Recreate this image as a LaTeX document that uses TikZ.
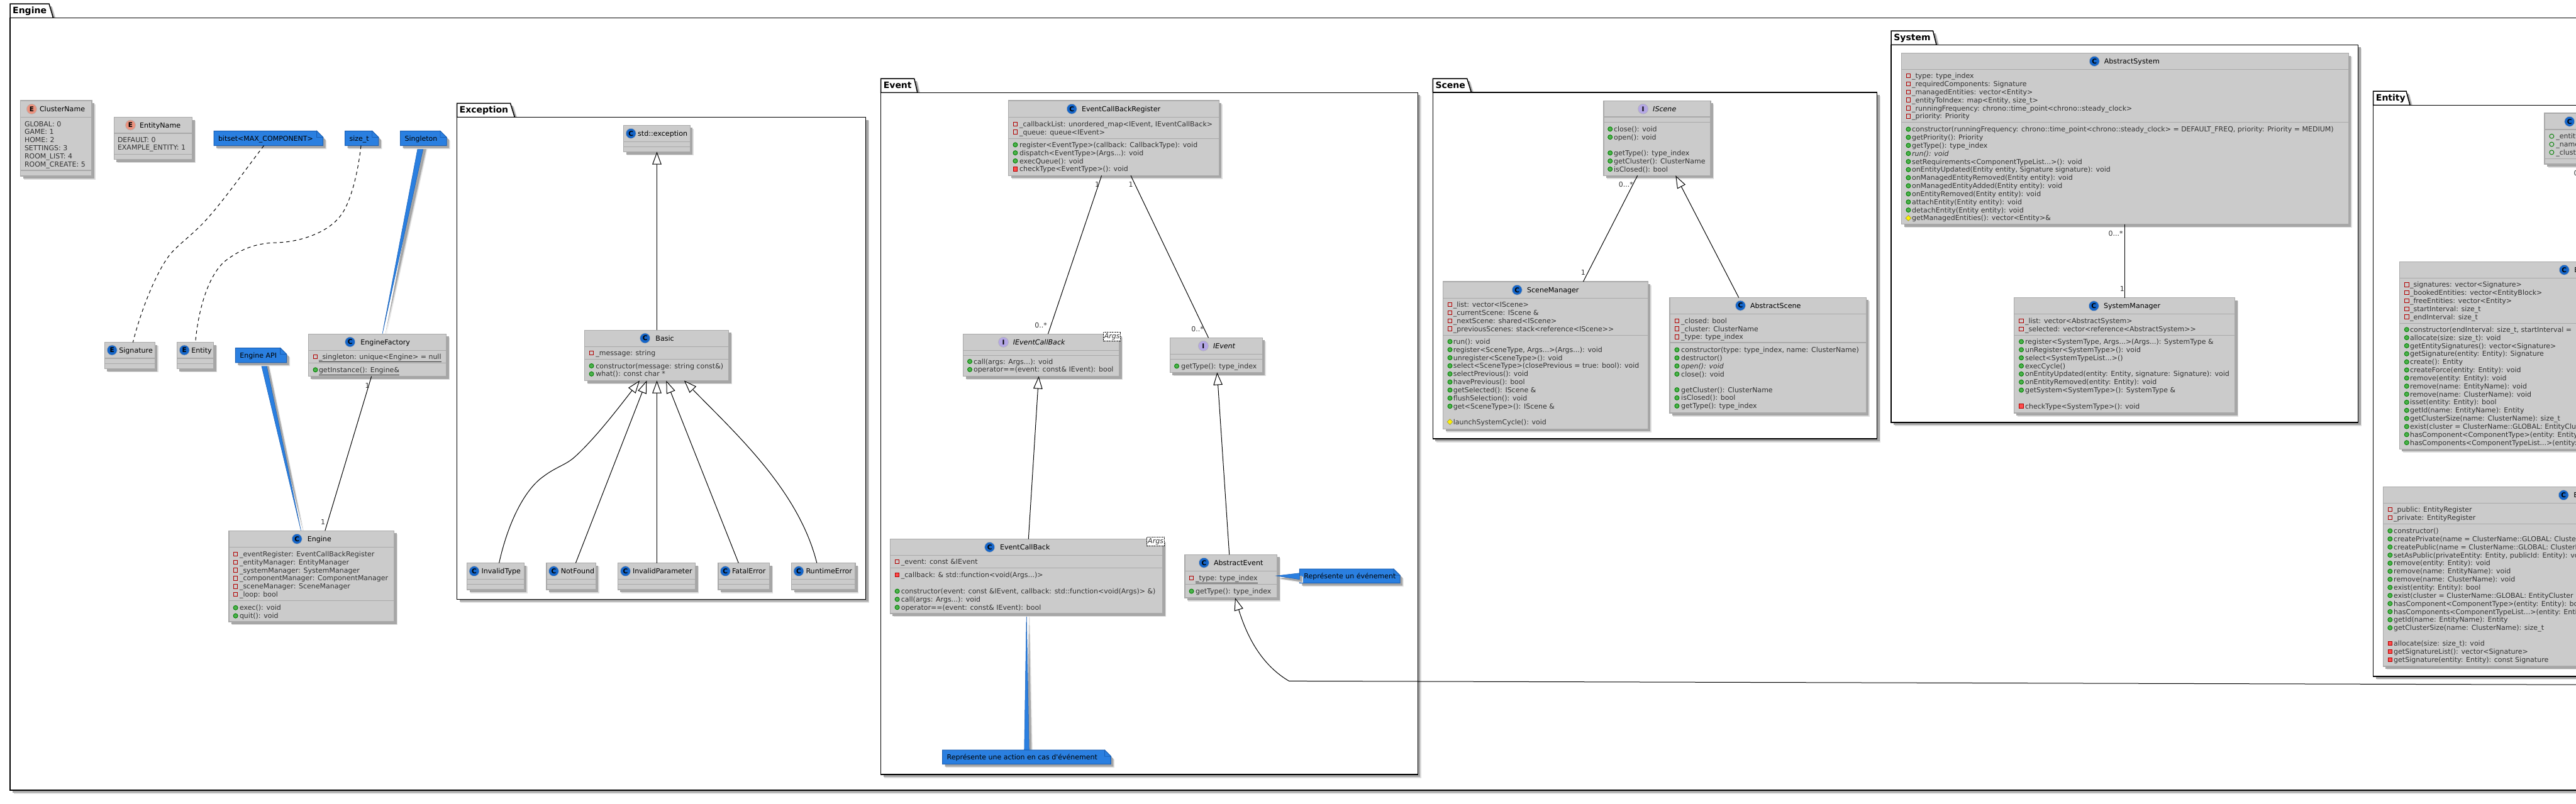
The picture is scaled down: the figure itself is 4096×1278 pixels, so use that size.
\documentclass[tikz,border=0pt]{standalone}
\usepackage{fontspec}
\newfontfamily\umlf{DejaVu Sans}
\usetikzlibrary{arrows.meta,shapes.geometric,shadows}
\definecolor{boxfill}{HTML}{CBCBCB}
\definecolor{boxline}{HTML}{A9A9A9}
\definecolor{shdark}{HTML}{A6A6A6}
\definecolor{shlight}{HTML}{DEDEDE}
\definecolor{notefill}{HTML}{2A7FE0}
\definecolor{noteline}{HTML}{1A5FB4}
\definecolor{classicon}{HTML}{1565C8}
\definecolor{ifaceicon}{HTML}{B4A7E5}
\definecolor{enumicon}{HTML}{EB937F}
\definecolor{membertext}{HTML}{333333}
\pgfdeclarelayer{pkglayer}
\pgfdeclarelayer{wedgelayer}
\pgfsetlayers{pkglayer,wedgelayer,main}
\newcounter{mc}
\tikzset{
  every node/.style={font=\umlf\fontsize{11}{13}\selectfont,inner sep=0pt,outer sep=0pt},
  softshadow/.style={general shadow={shadow xshift=5.5pt,shadow yshift=-5.5pt,fill=shlight,opacity=1},
                     general shadow={shadow xshift=4pt,shadow yshift=-4pt,fill=shdark,opacity=1}},
  classnode/.style={rectangle,draw=boxline,line width=1.4pt,fill=boxfill,softshadow,anchor=north west},
  divider/.style={draw=boxline,line width=1.2pt},
  iconnode/.style={circle,minimum size=16pt,draw=gray!60,line width=0.6pt,font=\umlf\bfseries\fontsize{10.5}{11}\selectfont},
  titletext/.style={anchor=base west,text=black,font=\umlf\fontsize{11.1}{13}\selectfont},
  titleital/.style={anchor=base west,text=black,font=\umlf\itshape\fontsize{11.1}{13}\selectfont},
  membertxt/.style={anchor=base west,text=membertext},
  pubm/.style={circle,minimum size=7pt,draw=green!50!black,fill=green!40!gray,line width=0.9pt},
  pubf/.style={circle,minimum size=7pt,draw=green!50!black,line width=0.9pt},
  privf/.style={rectangle,minimum size=6.5pt,draw=red!70!black,line width=0.9pt},
  privm/.style={rectangle,minimum size=6.5pt,draw=red!70!black,fill=red!70!white,line width=0.9pt},
  protm/.style={diamond,minimum size=9pt,draw=yellow!60!black,fill=yellow,line width=0.8pt},
  pkgbody/.style={rectangle,draw=black,line width=1.5pt,fill=white,softshadow,anchor=north west},
  pkgtab/.style={draw=black,line width=1.5pt,fill=white,softshadow},
  pkgtext/.style={anchor=base west,text=black,font=\umlf\bfseries\fontsize{14}{16}\selectfont},
  notebody/.style={draw=noteline,line width=1pt,fill=notefill,softshadow},
  noteear/.style={draw=noteline,line width=0.8pt,fill=notefill},
  notearea/.style={rectangle,anchor=north west},
  notetext/.style={anchor=base west,text=black},
  wedgeshape/.style={draw=noteline,line width=0.5pt,fill=notefill,softshadow},
  assoc/.style={draw=black,line width=1pt},
  inherit/.style={draw=black,line width=1pt,-{Triangle[open,fill=white,length=20pt,width=14.5pt]}},
  dashedlink/.style={draw=black,line width=1pt,dash pattern=on 5.5pt off 5pt},
  multlabel/.style={text=membertext},
  argsbox/.style={rectangle,draw=black,densely dotted,line width=0.6pt,fill=white,anchor=north west,
     font=\umlf\itshape\fontsize{11}{13}\selectfont,text=membertext},
}
\newcommand{\ClassBox}[7]{%
  \pgfmathsetmacro\bw{#4-#2}\pgfmathsetmacro\bh{#5-#3}%
  \node[classnode,minimum width=\bw pt,minimum height=\bh pt] (#1) at (#2,#3) {};
  \draw[divider] (#2,#6) -- (#4,#6);
  \draw[divider] (#2,#7) -- (#4,#7);
}
\newcommand{\Head}[7]{% id, letter, colour, icon x, y, title x, title
  \pgfmathsetmacro\by{#5+4}%
  \node[iconnode,fill=#3] (#1icon) at (#4,#5) {#2};
  \node[titletext] (#1title) at (#6,\by) {#7};
}
\newcommand{\HeadI}[7]{%
  \pgfmathsetmacro\by{#5+4}%
  \node[iconnode,fill=#3] (#1icon) at (#4,#5) {#2};
  \node[titleital] (#1title) at (#6,\by) {#7};
}
\newcommand{\Mset}[3]{\def\mx{#1}\def\tx{#2}\pgfmathsetmacro\my{#3}}
\newcommand{\M}[2]{%
  \stepcounter{mc}%
  \pgfmathsetmacro\by{\my+4}%
  \node[#1] (ic\arabic{mc}) at (\mx,\my) {};
  \node[membertxt] (tx\arabic{mc}) at (\tx,\by) {#2};
  \pgfmathsetmacro\my{\my+12.85}%
}
\newcommand{\T}[1]{%
  \stepcounter{mc}%
  \pgfmathsetmacro\by{\my+4}%
  \node[membertxt] (tx\arabic{mc}) at (\tx,\by) {#1};
  \pgfmathsetmacro\my{\my+12.85}%
}
\newcommand{\Pkg}[9]{% id,x1,top,bodytop,x2,y2,xrt,xbr,label
  \pgfmathsetmacro\bw{#5-#2}\pgfmathsetmacro\bh{#6-#4}\pgfmathsetmacro\by{#3+15.5}\pgfmathsetmacro\bx{#2+4.2}%
  \begin{pgfonlayer}{pkglayer}
  \draw[pkgtab] (#2,#4) -- (#2,#3) -- (#7,#3) -- (#8,#4) -- cycle;
  \node[pkgbody,minimum width=\bw pt,minimum height=\bh pt] (#1) at (#2,#4) {};
  \node[pkgtext] (#1label) at (\bx,\by) {#9};
  \end{pgfonlayer}
}
\newcommand{\Note}[6]{% id,x1,y1,x2,y2,text
  \pgfmathsetmacro\bw{#4-#2}\pgfmathsetmacro\bh{#5-#3}\pgfmathsetmacro\ex{#4-10}\pgfmathsetmacro\ey{#3+10}%
  \pgfmathsetmacro\by{(#3+#5)/2+4}\pgfmathsetmacro\bx{#2+7}%
  \draw[notebody] (#2,#3) -- (\ex,#3) -- (#4,\ey) -- (#4,#5) -- (#2,#5) -- cycle;
  \draw[noteear] (\ex,#3) -- (\ex,\ey) -- (#4,\ey) -- cycle;
  \node[notearea,minimum width=\bw pt,minimum height=\bh pt] (#1) at (#2,#3) {};
  \node[notetext] (#1text) at (\bx,\by) {#6};
}
\begin{document}
\begin{tikzpicture}[x=1pt,y=-1pt]
\useasboundingbox (0,0) rectangle (4096,1278);
% ---- packages
\Pkg{pkgengine}{16}{6}{28.5}{4200}{1257}{78}{84.6}{Engine}
\Pkg{pkgexception}{726.5}{164.3}{186.5}{1376.6}{953.4}{811.5}{818.4}{Exception}
\Pkg{pkgevent}{1400.6}{125}{147.3}{2254.3}{1232.2}{1453.7}{1458.8}{Event}
\Pkg{pkgscene}{2278.3}{125}{147.2}{2984.6}{698}{2332.7}{2339.5}{Scene}
\Pkg{pkgsystem}{3007.1}{49}{71.3}{3749.7}{672}{3073.5}{3079}{System}
\Pkg{pkgentity}{3773.7}{145}{167.3}{4200}{1075.8}{3826}{3832}{Entity}

% ---- enums and entities
\ClassBox{clustername}{32.5}{160}{146}{280}{186.5}{271}
\Head{clustername}{E}{enumicon}{50.4}{173.5}{63}{ClusterName}
\Mset{0}{39}{197}
\T{GLOBAL: 0}\T{GAME: 1}\T{HOME: 2}\T{SETTINGS: 3}\T{ROOM\_LIST: 4}\T{ROOM\_CREATE: 5}

\ClassBox{entityname}{181.4}{186.5}{305.7}{253.5}{212}{245.3}
\Head{entityname}{E}{enumicon}{207.5}{199}{222}{EntityName}
\Mset{0}{187}{222}
\T{DEFAULT: 0}\T{EXAMPLE\_ENTITY: 1}

\ClassBox{signature}{166.4}{544.5}{246.4}{586.5}{570}{578.8}
\Head{signature}{E}{classicon}{178.2}{557}{189.3}{Signature}
\ClassBox{entity}{281.4}{544.5}{339.6}{586.5}{570}{578.8}
\Head{entity}{E}{classicon}{293.2}{557}{304.3}{Entity}

% ---- factory / engine
\ClassBox{factory}{490.4}{531.3}{709.7}{598.6}{557.3}{577.6}
\Head{factory}{C}{classicon}{556.6}{544}{573.4}{EngineFactory}
\Mset{501.5}{507}{567.3}
\M{privf}{\underline{\_singleton: unique<Engine> = null}}
\Mset{501.5}{507}{588.3}
\M{pubm}{\underline{getInstance(): Engine\&}}

\ClassBox{engine}{363.8}{844.3}{626.5}{988.8}{870.4}{955.4}
\Head{engine}{C}{classicon}{472.2}{857.3}{488.8}{Engine}
\Mset{374.6}{381}{881.4}
\M{privf}{\_eventRegister: EventCallBackRegister}
\M{privf}{\_entityManager: EntityManager}
\M{privf}{\_systemManager: SystemManager}
\M{privf}{\_componentManager: ComponentManager}
\M{privf}{\_sceneManager: SceneManager}
\M{privf}{\_loop: bool}
\Mset{374.6}{381}{966.8}
\M{pubm}{exec(): void}
\M{pubm}{quit(): void}

% ---- exception
\ClassBox{stdexc}{991.5}{199.2}{1097.2}{241.5}{225.3}{233.3}
\Head{stdexc}{C}{classicon}{1003.2}{212.3}{1014.2}{std::exception}
\ClassBox{basic}{929.5}{525.3}{1158.5}{605.5}{551.4}{571.4}
\Head{basic}{C}{classicon}{1025.6}{538}{1042.4}{Basic}
\Mset{940.5}{947.4}{561.4}
\M{privf}{\_message: string}
\Mset{940.5}{947.4}{582}
\M{pubm}{constructor(message: string const\&)}
\M{pubm}{what(): const char *}
\ClassBox{invalidtype}{742.6}{895.6}{833.2}{938}{921.6}{929.8}
\Head{invalidtype}{C}{classicon}{754}{908.6}{765.6}{InvalidType}
\ClassBox{notfound}{868.9}{895.6}{947.3}{938}{921.6}{929.8}
\Head{notfound}{C}{classicon}{880.4}{908.6}{891.8}{NotFound}
\ClassBox{invalidparam}{982.4}{895.6}{1105.5}{938}{921.6}{929.8}
\Head{invalidparam}{C}{classicon}{994.5}{908.6}{1006}{InvalidParameter}
\ClassBox{fatalerror}{1141.8}{895.6}{1223.5}{938}{921.6}{929.8}
\Head{fatalerror}{C}{classicon}{1153.3}{908.6}{1164}{FatalError}
\ClassBox{runtimeerror}{1258.5}{895.6}{1359.8}{938}{921.6}{929.8}
\Head{runtimeerror}{C}{classicon}{1270}{908.6}{1281.5}{RuntimeError}

% ---- event
\ClassBox{register}{1603.7}{160}{1938.4}{279.3}{186.7}{220.3}
\Head{register}{C}{classicon}{1704.2}{173.3}{1720}{EventCallBackRegister}
\Mset{1614.4}{1621}{197.3}
\M{privf}{\_callbackList: unordered\_map<IEvent, IEventCallBack>}
\M{privf}{\_queue: queue<IEvent>}
\Mset{1614.4}{1621}{230.3}
\M{pubm}{register<EventType>(callback: CallbackType): void}
\M{pubm}{dispatch<EventType>(Args...): void}
\M{pubm}{execQueue(): void}
\M{privm}{checkType<EventType>(): void}

\ClassBox{ieventcallback}{1531.7}{531.3}{1779.7}{598.5}{557.3}{565.3}
\HeadI{ieventcallback}{I}{ifaceicon}{1595.5}{544.3}{1610.8}{IEventCallBack}
\Mset{1542}{1548}{575}
\M{pubm}{call(args: Args...): void}
\M{pubm}{operator==(event: const\& IEvent): bool}
\node[argsbox,minimum width=27pt,minimum height=14pt] (argsa) at (1754.7,528.3) {Args};

\ClassBox{ievent}{1860.3}{537.3}{2007.3}{592.5}{563.3}{571.3}
\HeadI{ievent}{I}{ifaceicon}{1913.4}{550.3}{1929}{IEvent}
\Mset{1871}{1878}{582.4}
\M{pubm}{getType(): type\_index}

\ClassBox{eventcallback}{1415.4}{857.6}{1848.6}{975.8}{883.7}{903.4}
\Head{eventcallback}{C}{classicon}{1573.6}{870.4}{1590}{EventCallBack}
\Mset{1426.6}{1432.8}{893.3}
\M{privf}{\_event: const \&IEvent}
\Mset{1426.6}{1432.8}{914.4}
\M{privm}{\_callback: \& std::function<void(Args...)>}
\Mset{1426.6}{1432.8}{940.5}
\M{pubm}{constructor(event: const \&IEvent, callback: std::function<void(Args)> \&)}
\M{pubm}{call(args: Args...): void}
\M{pubm}{operator==(event: const\& IEvent): bool}
\node[argsbox,minimum width=28pt,minimum height=14pt] (argsb) at (1823.6,854.4) {Args};

\ClassBox{abstractevent}{1883.8}{882.3}{2030.7}{951}{908.4}{929.5}
\Head{abstractevent}{C}{classicon}{1914.4}{895.2}{1930}{AbstractEvent}
\Mset{1894.5}{1901}{919.4}
\M{privf}{\underline{\_type: type\_index}}
\Mset{1894.5}{1901}{940.5}
\M{pubm}{getType(): type\_index}

% ---- scene
\ClassBox{iscene}{2549.8}{160.3}{2719.8}{279.3}{186}{194.7}
\HeadI{iscene}{I}{ifaceicon}{2612.6}{173.3}{2628.2}{IScene}
\Mset{2560.2}{2566}{205.3}
\M{pubm}{close(): void}
\M{pubm}{open(): void}
\Mset{2560.2}{2566}{243.3}
\M{pubm}{getType(): type\_index}
\M{pubm}{getCluster(): ClusterName}
\M{pubm}{isClosed(): bool}

\ClassBox{scenemanager}{2294.6}{448}{2620.4}{682.2}{474.2}{533.1}
\Head{scenemanager}{C}{classicon}{2412.2}{461.2}{2428}{SceneManager}
\Mset{2305.5}{2310.8}{484.5}
\M{privf}{\_list: vector<IScene>}
\M{privf}{\_currentScene: IScene \&}
\M{privf}{\_nextScene: shared<IScene>}
\M{privf}{\_previousScenes: stack<reference<IScene>>}
\Mset{2305.5}{2310.8}{543.4}
\M{pubm}{run(): void}
\M{pubm}{register<SceneType, Args...>(Args...): void}
\M{pubm}{unregister<SceneType>(): void}
\M{pubm}{select<SceneType>(closePrevious = true: bool): void}
\M{pubm}{selectPrevious(): void}
\M{pubm}{havePrevious(): bool}
\M{pubm}{getSelected(): IScene \&}
\M{pubm}{flushSelection(): void}
\M{pubm}{get<SceneType>(): IScene \&}
\Mset{2305.5}{2310.8}{671.1}
\M{protm}{launchSystemCycle(): void}

\ClassBox{abstractscene}{2654.8}{473.4}{2967.4}{657}{499.5}{545}
\Head{abstractscene}{C}{classicon}{2767.4}{486.1}{2783}{AbstractScene}
\Mset{2666.4}{2673.2}{510.2}
\M{privf}{\_closed: bool}
\M{privf}{\_cluster: ClusterName}
\M{privf}{\_type: type\_index}
\Mset{2666.4}{2673.2}{556.5}
\M{pubm}{constructor(type: type\_index, name: ClusterName)}
\M{pubm}{destructor()}
\M{pubm}{\itshape open(): void}
\M{pubm}{close(): void}
\Mset{2666.4}{2673.2}{620.1}
\M{pubm}{getCluster(): ClusterName}
\M{pubm}{isClosed(): bool}
\M{pubm}{getType(): type\_index}

% ---- system
\ClassBox{abstractsystem}{3023.6}{84.6}{3734.4}{356.6}{110.3}{194.4}
\Head{abstractsystem}{C}{classicon}{3330.2}{97.4}{3345.8}{AbstractSystem}
\Mset{3034.4}{3040}{120.6}
\M{privf}{\_type: type\_index}
\M{privf}{\_requiredComponents: Signature}
\M{privf}{\_managedEntities: vector<Entity>}
\M{privf}{\_entityToIndex: map<Entity, size\_t>}
\M{privf}{\_runningFrequency: chrono::time\_point<chrono::steady\_clock>}
\M{privf}{\_priority: Priority}
\Mset{3034.4}{3040}{205.6}
\M{pubm}{constructor(runningFrequency: chrono::time\_point<chrono::steady\_clock> = DEFAULT\_FREQ, priority: Priority = MEDIUM)}
\M{pubm}{getPriority(): Priority}
\M{pubm}{getType(): type\_index}
\M{pubm}{\itshape run(): void}
\M{pubm}{setRequirements<ComponentTypeList...>(): void}
\M{pubm}{onEntityUpdated(Entity entity, Signature signature): void}
\M{pubm}{onManagedEntityRemoved(Entity entity): void}
\M{pubm}{onManagedEntityAdded(Entity entity): void}
\M{pubm}{onEntityRemoved(Entity entity): void}
\M{pubm}{attachEntity(Entity entity): void}
\M{pubm}{detachEntity(Entity entity): void}
\M{protm}{getManagedEntities(): vector<Entity>\&}

\ClassBox{systemmanager}{3202.3}{473.5}{3553.5}{657}{499.6}{533.6}
\Head{systemmanager}{C}{classicon}{3329.3}{486.7}{3345}{SystemManager}
\Mset{3214}{3220}{510.4}
\M{privf}{\_list: vector<AbstractSystem>}
\M{privf}{\_selected: vector<reference<AbstractSystem>>}
\Mset{3214}{3220}{543.5}
\M{pubm}{register<SystemType, Args...>(Args...): SystemType \&}
\M{pubm}{unRegister<SystemType>(): void}
\M{pubm}{select<SystemTypeList...>()}
\M{pubm}{execCycle()}
\M{pubm}{onEntityUpdated(entity: Entity, signature: Signature): void}
\M{pubm}{onEntityRemoved(entity: Entity): void}
\M{pubm}{getSystem<SystemType>(): SystemType \&}
\Mset{3214}{3220}{646}
\M{privm}{checkType<SystemType>(): void}

% ---- entity
\ClassBox{entitycluster}{4046}{180}{4200}{261}{206}{252.3}
\Head{entitycluster}{C}{classicon}{4085.7}{193.3}{4101}{}
\Mset{4057.3}{4064.3}{216.7}
\M{pubf}{\_entity}
\M{pubf}{\_name}
\M{pubf}{\_cluster}
\node[multlabel,anchor=west] (lblentity) at (4092.5,275) {0};

\ClassBox{entityregister}{3815.4}{416.3}{4200}{714.4}{442.3}{514.3}
\Head{entityregister}{C}{classicon}{4077.3}{429.3}{4093.3}{EntityRegister}
\Mset{3826.7}{3832}{452.7}
\M{privf}{\_signatures: vector<Signature>}
\M{privf}{\_bookedEntities: vector<EntityBlock>}
\M{privf}{\_freeEntities: vector<Entity>}
\M{privf}{\_startInterval: size\_t}
\M{privf}{\_endInterval: size\_t}
\Mset{3826.7}{3832}{524.3}
\M{pubm}{constructor(endInterval: size\_t, startInterval =}
\M{pubm}{allocate(size: size\_t): void}
\M{pubm}{getEntitySignatures(): vector<Signature>}
\M{pubm}{getSignature(entity: Entity): Signature}
\M{pubm}{create(): Entity}
\M{pubm}{createForce(entity: Entity): void}
\M{pubm}{remove(entity: Entity): void}
\M{pubm}{remove(name: EntityName): void}
\M{pubm}{remove(name: ClusterName): void}
\M{pubm}{isset(entity: Entity): bool}
\M{pubm}{getId(name: EntityName): Entity}
\M{pubm}{getClusterSize(name: ClusterName): size\_t}
\M{pubm}{exist(cluster = ClusterName::GLOBAL: EntityCluster}
\M{pubm}{hasComponent<ComponentType>(entity: Entity)}
\M{pubm}{hasComponents<ComponentTypeList...>(entity: Entity)}

\ClassBox{entitymanager}{3789.4}{774.3}{4200}{1059.8}{800.6}{833.8}
\Head{entitymanager}{C}{classicon}{4076.2}{787.6}{4092.3}{EntityManager}
\Mset{3800.3}{3806.2}{810.5}
\M{privf}{\_public: EntityRegister}
\M{privf}{\_private: EntityRegister}
\Mset{3800.3}{3806.2}{844.5}
\M{pubm}{constructor()}
\M{pubm}{createPrivate(name = ClusterName::GLOBAL: ClusterName)}
\M{pubm}{createPublic(name = ClusterName::GLOBAL: ClusterName)}
\M{pubm}{setAsPublic(privateEntity: Entity, publicId: Entity): void}
\M{pubm}{remove(entity: Entity): void}
\M{pubm}{remove(name: EntityName): void}
\M{pubm}{remove(name: ClusterName): void}
\M{pubm}{exist(entity: Entity): bool}
\M{pubm}{exist(cluster = ClusterName::GLOBAL: EntityCluster}
\M{pubm}{hasComponent<ComponentType>(entity: Entity): bool}
\M{pubm}{hasComponents<ComponentTypeList...>(entity: Entity)}
\M{pubm}{getId(name: EntityName): Entity}
\M{pubm}{getClusterSize(name: ClusterName): size\_t}
\Mset{3800.3}{3806.2}{1023.5}
\M{privm}{allocate(size: size\_t): void}
\M{privm}{getSignatureList(): vector<Signature>}
\M{privm}{getSignature(entity: Entity): const Signature}

% ---- notes
\Note{notebitset}{340}{208.4}{513.6}{231.6}{bitset<MAX\_COMPONENT>}
\Note{notesize}{548.6}{208.4}{601.8}{231.6}{size\_t}
\Note{notesingleton}{636.6}{208.4}{710}{231.6}{Singleton}
\Note{noteapi}{374.4}{553.5}{455.6}{576.8}{Engine API}
\Note{noteaction}{1498.6}{1193.2}{1766.4}{1215.7}{Représente une action en cas d'événement}
\Note{noteevent}{2066.4}{905.2}{2226}{927.7}{Représente un événement}

\begin{pgfonlayer}{wedgelayer}
\draw[wedgeshape] (665,0 |- notesingleton.south) -- (674,0 |- notesingleton.south) -- (608,0 |- factory.north) -- cycle;
\draw[wedgeshape] (414.6,0 |- noteapi.south) -- (423,0 |- noteapi.south) -- (478.6,0 |- engine.north) -- cycle;
\draw[wedgeshape] (1628.7,0 |- noteaction.north) -- (1636.3,0 |- noteaction.north) -- (1632.2,0 |- eventcallback.south) -- cycle;
\end{pgfonlayer}
\draw[wedgeshape] (noteevent.west |- 0,911.7) -- (noteevent.west |- 0,921.7) -- (2029,916) -- cycle;

% ---- connectors
\draw[dashedlink] (419.6,0 |- notebitset.south) .. controls (385,277) and (350,327) .. (321,357) .. controls (300,378) and (285,388) .. (271,404) .. controls (250,430) and (225,490) .. (211.4,0 |- signature.north);
\draw[dashedlink] (574,0 |- notesize.south) .. controls (568,285) and (555,325) .. (543,341) .. controls (525,368) and (480,385) .. (439.5,386) .. controls (405,386.5) and (380,398) .. (357,416) .. controls (330,440) and (315,495) .. (310.7,0 |- entity.north);
\draw[assoc] (590.7,0 |- factory.south) -- (516.8,0 |- engine.north);
\node[multlabel] (l1) at (584,613) {1};
\node[multlabel] (l2) at (513.6,830) {1};

\draw[inherit] (1044.5,0 |- basic.north) -- (1044.5,0 |- stdexc.south);
\draw[inherit] (793.6,0 |- invalidtype.north) .. controls (808,830) and (835,778) .. (864,758) .. controls (885,742) and (900,740) .. (915.4,725.5) .. controls (945,698) and (975,660) .. (1017,0 |- basic.south);
\draw[inherit] (915.4,0 |- notfound.north) -- (1028.3,0 |- basic.south);
\draw[inherit] (1044.5,0 |- invalidparam.north) -- (1044.5,0 |- basic.south);
\draw[inherit] (1174.3,0 |- fatalerror.north) -- (1059.3,0 |- basic.south);
\draw[inherit] (1298.8,0 |- runtimeerror.north) .. controls (1270,780) and (1170,690) .. (1087.9,0 |- basic.south);

\draw[assoc] (1751.6,0 |- register.south) -- (1666.4,0 |- ieventcallback.north);
\draw[assoc] (1798,0 |- register.south) -- (1921.5,0 |- ievent.north);
\node[multlabel] (l3) at (1744.5,293.3) {1};
\node[multlabel] (l4) at (1798,293.3) {1};
\node[multlabel] (l5) at (1655,517.3) {0..*};
\node[multlabel] (l6) at (1904,523.3) {0..*};
\draw[inherit] (1635.3,0 |- eventcallback.north) -- (1651.6,0 |- ieventcallback.south);
\draw[inherit] (1954.7,0 |- abstractevent.north) -- (1935.3,0 |- ievent.south);
\coordinate (offright) at (4200,1089.5);
\draw[inherit] (offright) -- (2049.6,1083.4) .. controls (2010,1060) and (1985,1020) .. (1963.9,0 |- abstractevent.south);

\draw[assoc] (2603.7,0 |- iscene.south) -- (2517.4,0 |- scenemanager.north);
\node[multlabel] (l7) at (2585.4,293.5) {0...*};
\node[multlabel] (l8) at (2517.4,433) {1};
\draw[inherit] (2764.7,0 |- abstractscene.north) -- (2664.3,0 |- iscene.south);

\draw[assoc] (3378.5,0 |- abstractsystem.south) -- (3378.5,0 |- systemmanager.north);
\node[multlabel] (l9) at (3364,371) {0...*};
\node[multlabel] (l10) at (3374.4,459.4) {1};
\end{tikzpicture}
\end{document}
